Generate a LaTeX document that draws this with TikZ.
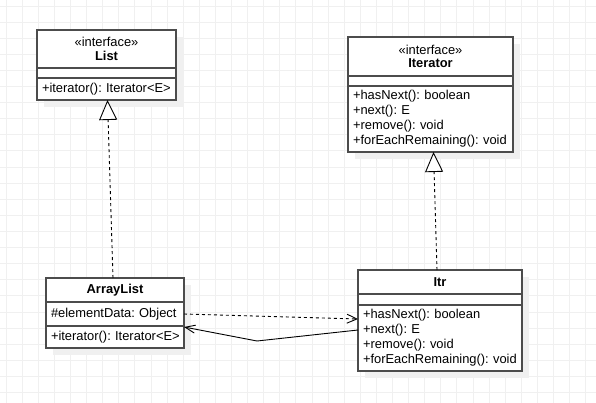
\documentclass[tikz,border=0pt]{standalone}
\usepackage{fontspec}
\setmainfont{Liberation Sans}
\usetikzlibrary{positioning, arrows.meta, shadows}
\hyphenpenalty=10000

\begin{document}
\begin{tikzpicture}[x=1pt, y=-1pt, node distance=0pt,
    every node/.style={font=\fontsize{12.9}{15}\selectfont, outer sep=0pt},
    umlpart/.style={draw=black!70, line width=1.2pt, fill=white, inner xsep=5pt, inner ysep=0pt,
      drop shadow={shadow xshift=7pt, shadow yshift=-7pt, fill=black!6, opacity=1}},
    umltitle/.style={umlpart, align=center, font=\fontsize{12.9}{13.5}\selectfont},
    umlbody/.style={umlpart, align=left},
    gridline/.style={draw=black!6, line width=0.8pt},
    realize/.style={line width=0.9pt, dash pattern=on 3pt off 3pt,
      -{Triangle[open, length=20pt, width=18pt, fill=white]}},
    depend/.style={line width=0.9pt, dash pattern=on 3pt off 3pt, -{Straight Barb[length=10pt, width=9pt]}},
    assoc/.style={line width=0.9pt, -{Straight Barb[length=10pt, width=8pt]}}]

      % background and grid
      \fill[white] (0,0) rectangle (596,403);
      \useasboundingbox (0,0) rectangle (596,403);
      \foreach \k in {0,...,36} \draw[gridline] (6+16.1*\k,0) -- (6+16.1*\k,403);
      \foreach \k in {0,...,24} \draw[gridline] (0,6+16.1*\k) -- (596,6+16.1*\k);

      % List
      \node[umltitle, anchor=north west, text width=129pt, minimum height=38pt] (list-name) at (37,30) {«interface»\\\textbf{List}};
      \node[umlbody, text width=129pt, minimum height=10pt, below=of list-name] (list-empty) {};
      \node[umlbody, text width=129pt, minimum height=22pt, below=of list-empty] (list-ops) {+iterator():~Iterator<E>};

      % Iterator
      \node[umltitle, anchor=north west, text width=155pt, minimum height=39pt] (iter-name) at (348,37) {«interface»\\\textbf{Iterator}};
      \node[umlbody, text width=155pt, minimum height=10pt, below=of iter-name] (iter-empty) {};
      \node[umlbody, text width=155pt, minimum height=66pt, below=of iter-empty] (iter-ops) {+hasNext():~boolean\\+next():~E\\+remove():~void\\+forEachRemaining():~void};

      % ArrayList
      \node[umltitle, anchor=north west, text width=128pt, minimum height=24pt] (al-name) at (46,278) {\textbf{ArrayList}};
      \node[umlbody, text width=128pt, minimum height=24pt, below=of al-name] (al-attr) {\#elementData:~Object};
      \node[umlbody, text width=128pt, minimum height=22pt, below=of al-attr] (al-ops) {+iterator():~Iterator<E>};

      % Itr
      \node[umltitle, anchor=north west, text width=154pt, minimum height=24pt] (itr-name) at (358,270) {\textbf{Itr}};
      \node[umlbody, text width=154pt, minimum height=11pt, below=of itr-name] (itr-empty) {};
      \node[umlbody, text width=154pt, minimum height=66pt, below=of itr-empty] (itr-ops) {+hasNext():~boolean\\+next():~E\\+remove():~void\\+forEachRemaining():~void};

      \coordinate (bend) at (257,341);

      \path ([xshift=-2pt]al-name.north) edge [realize] ([xshift=1pt]list-ops.south)
            ([xshift=-3pt]itr-name.north) edge [realize] ([xshift=3pt]iter-ops.south)
            (al-attr.east) edge [depend] ([yshift=19pt]itr-ops.west)
            ;
      \draw[assoc] ([yshift=8pt]itr-ops.west) -- (bend) -- ([yshift=-1pt]al-attr.south east);

    \end{tikzpicture}
\end{document}
